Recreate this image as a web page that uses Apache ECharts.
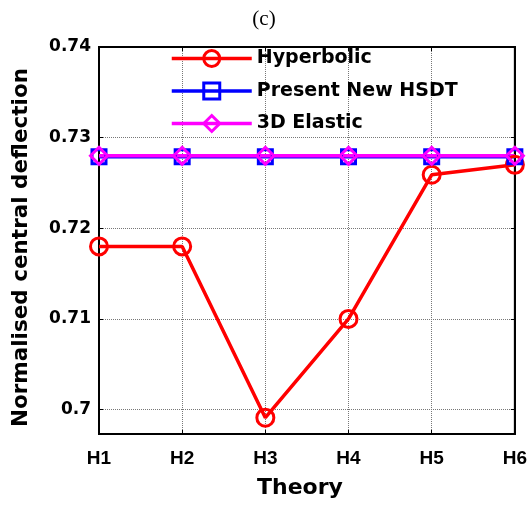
<!DOCTYPE html>
<html>
<head>
<meta charset="utf-8">
<script src="https://cdn.jsdelivr.net/npm/echarts@6/dist/echarts.min.js"></script>
<style>
  html, body { margin: 0; padding: 0; background: #fff; }
  #chart { width: 530px; height: 505px; }
</style>
</head>
<body>
<div id="chart"></div>
<script>
// Normalised central deflection for each shear deformation theory
const theories = ['H1', 'H2', 'H3', 'H4', 'H5', 'H6'];
const hyperbolic = [0.718, 0.718, 0.6991, 0.710, 0.7259, 0.7270];
const presentNewHSDT = [0.7279, 0.7279, 0.7279, 0.7279, 0.7279, 0.7279];
const elastic3D = [0.7280, 0.7280, 0.7280, 0.7280, 0.7280, 0.7280];
const yTicks = [0.70, 0.71, 0.72, 0.73, 0.74];

const sans = 'Liberation Sans, Arial, sans-serif';
const wide = 'DejaVu Sans, Verdana, sans-serif';
const chart = echarts.init(document.getElementById('chart'), null, { renderer: 'canvas' });

const makeSeries = (name, data, color, symbol, size) => ({
  name, type: 'line', data,
  xAxisIndex: 0, yAxisIndex: 0,
  symbol, symbolSize: size,
  showAllSymbol: true,
  lineStyle: { color, width: 3.5 },
  itemStyle: { color: 'rgba(255,255,255,0)', borderColor: color, borderWidth: 3 },
  emphasis: { disabled: true }
});

const frameTick = { show: true, inside: true, length: 4, lineStyle: { color: '#000', width: 1 } };

chart.setOption({
  animation: false,
  title: {
    text: '(c)', left: 259, textAlign: 'center', top: 4,
    textStyle: { fontFamily: 'Liberation Serif, Times New Roman, serif', fontSize: 21, fontWeight: 'normal', color: '#000' }
  },
  grid: {
    left: 99, right: 14, top: 47, bottom: 71,
    show: true, borderColor: '#000', borderWidth: 2, backgroundColor: 'transparent'
  },
  legend: {
    orient: 'vertical', left: 165, top: 44,
    itemWidth: 80, itemHeight: 20, itemGap: 13.5,
    data: ['Hyperbolic', 'Present New HSDT', '3D Elastic'],
    lineStyle: { width: 3.5 },
    itemStyle: { color: 'rgba(255,255,255,0)', borderWidth: 3 },
    textStyle: { fontFamily: wide, fontSize: 19, fontWeight: 'bold', color: '#000' },
    selectedMode: false
  },
  xAxis: [{
    type: 'category', data: theories, boundaryGap: false, position: 'bottom',
    name: 'Theory', nameLocation: 'middle', nameGap: 43,
    nameTextStyle: { fontFamily: wide, fontSize: 22, fontWeight: 'bold', color: '#000', padding: [0, 14, 0, 0] },
    axisLine: { lineStyle: { color: '#000', width: 2 } },
    axisTick: frameTick,
    axisLabel: { fontFamily: sans, fontSize: 19, fontWeight: 'bold', color: '#000', margin: 15 },
    splitLine: { show: true, lineStyle: { type: 'dotted', color: '#777', width: 1 } }
  }, {
    type: 'category', data: theories, boundaryGap: false, position: 'top',
    axisLine: { lineStyle: { color: '#000', width: 2 } },
    axisTick: frameTick,
    axisLabel: { show: false },
    splitLine: { show: false }
  }],
  yAxis: [{
    type: 'value', min: 0.6973, max: 0.74, position: 'left',
    name: 'Normalised central deflection', nameLocation: 'middle', nameGap: 67,
    nameTextStyle: { fontFamily: wide, fontSize: 21.5, fontWeight: 'bold', color: '#000', padding: [0, 14, 0, 0] },
    axisLine: { show: true, lineStyle: { color: '#000', width: 2 } },
    axisTick: Object.assign({ customValues: yTicks }, frameTick),
    axisLabel: {
      fontFamily: wide, fontSize: 17, fontWeight: 'bold', color: '#000', margin: 8,
      customValues: yTicks,
      formatter: v => String(parseFloat(v.toFixed(2)))
    },
    splitLine: { show: true, lineStyle: { type: 'dotted', color: '#777', width: 1 } }
  }, {
    type: 'value', min: 0.6973, max: 0.74, position: 'right',
    axisLine: { show: true, lineStyle: { color: '#000', width: 2 } },
    axisTick: Object.assign({ customValues: yTicks }, frameTick),
    axisLabel: { show: false },
    splitLine: { show: false }
  }],
  series: [
    makeSeries('Hyperbolic', hyperbolic, '#ff0000', 'circle', 17),
    makeSeries('Present New HSDT', presentNewHSDT, '#0000ff', 'rect', 14),
    makeSeries('3D Elastic', elastic3D, '#ff00ff', 'diamond', 17)
  ]
});
</script>
</body>
</html>
